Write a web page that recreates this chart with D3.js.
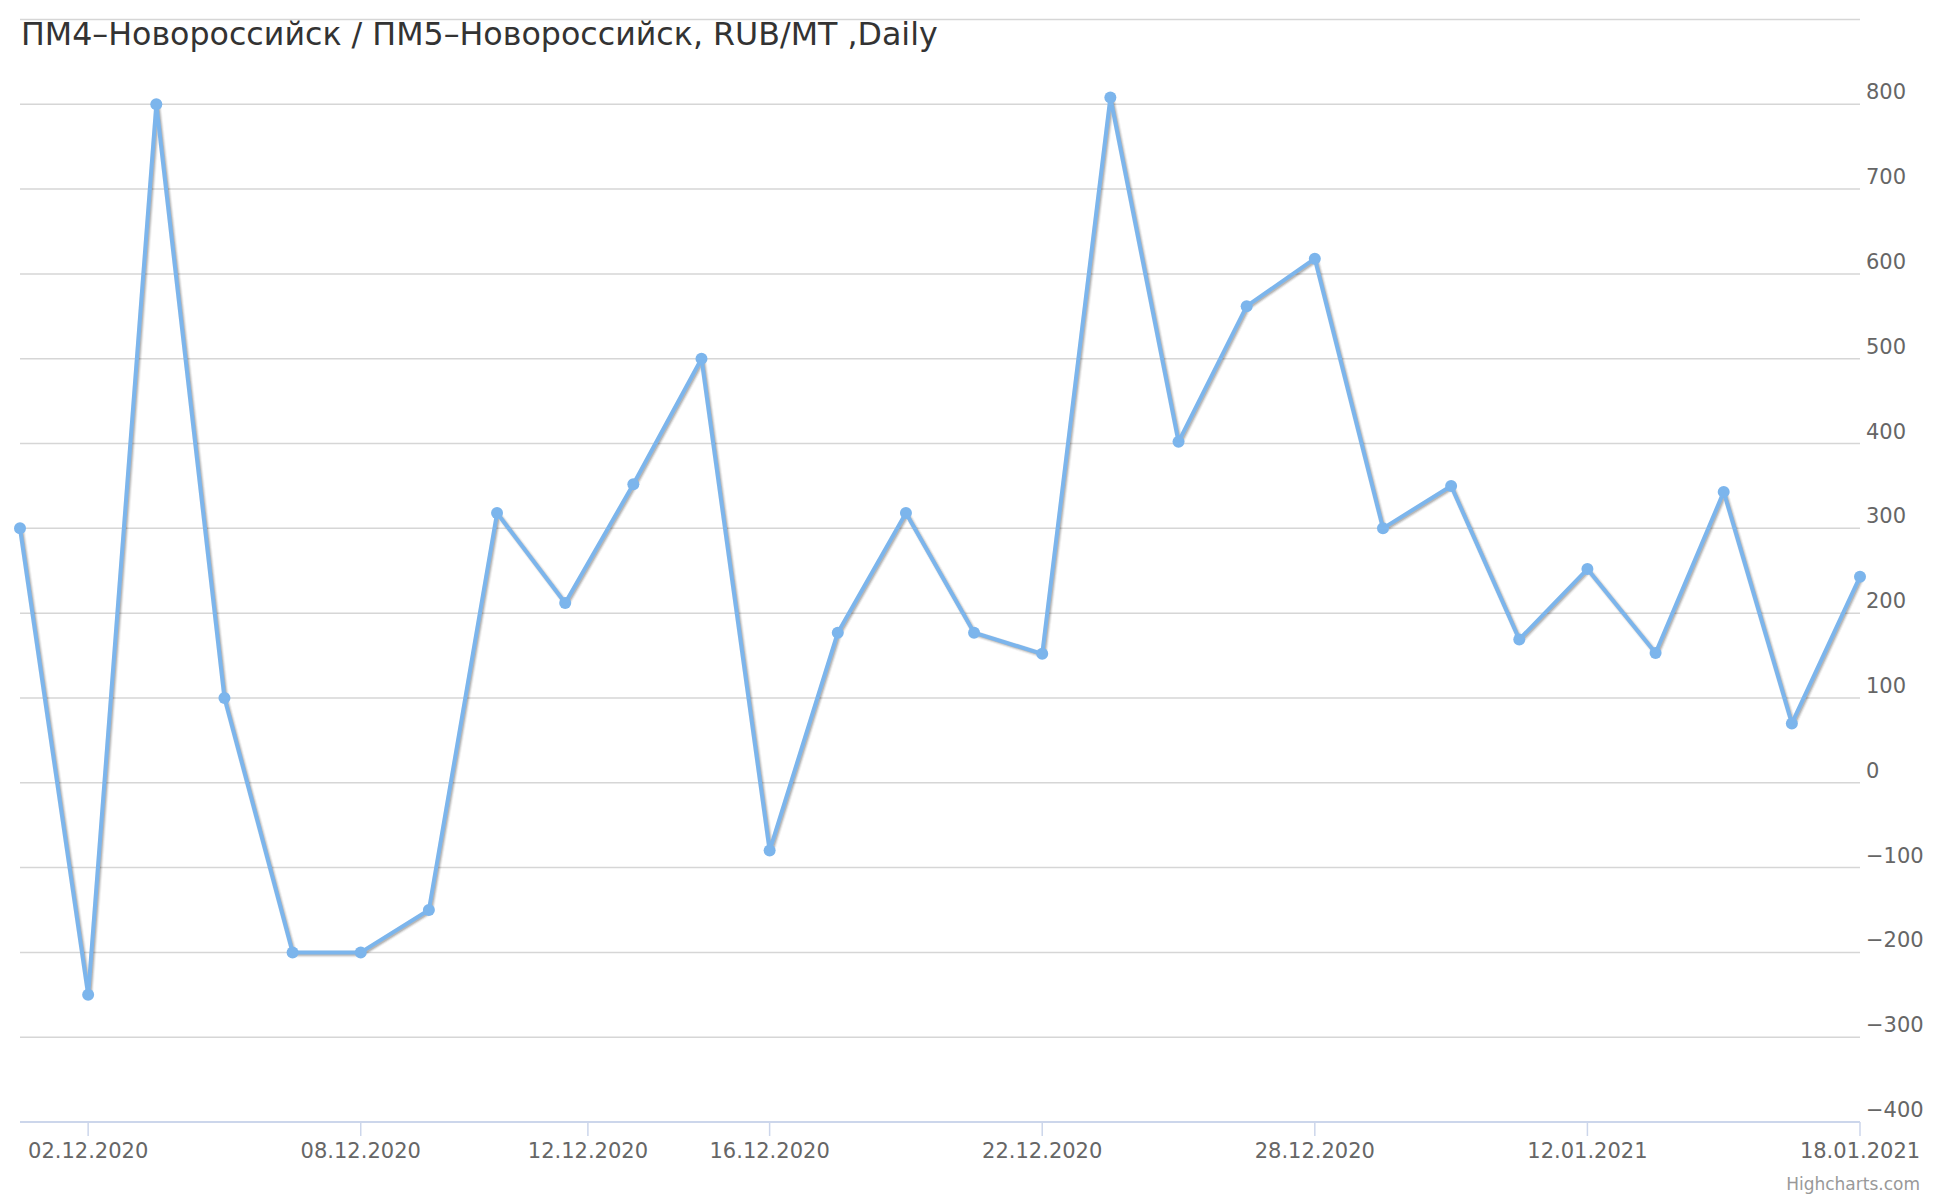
<!DOCTYPE html>
<html>
<head>
<meta charset="utf-8">
<script src="https://cdn.jsdelivr.net/npm/d3@7"></script>
<style>
  body { margin: 0; background: #fff; }
  text { font-family: "DejaVu Sans", Verdana, sans-serif; }
</style>
</head>
<body>
<svg id="chart" width="1940" height="1200"></svg>
<script>
// trading days shown on the chart
const dates = ['01.12.2020', '02.12.2020', '03.12.2020', '04.12.2020', '07.12.2020', '08.12.2020',
    '09.12.2020', '10.12.2020', '11.12.2020', '14.12.2020', '15.12.2020', '16.12.2020', '17.12.2020',
    '18.12.2020', '21.12.2020', '22.12.2020', '23.12.2020', '24.12.2020', '25.12.2020', '28.12.2020',
    '29.12.2020', '30.12.2020', '31.12.2020', '12.01.2021', '13.01.2021', '14.01.2021', '15.01.2021',
    '18.01.2021'];
const spread = [300, -250, 800, 100, -200, -200, -150, 318, 212, 352, 500, -80, 177, 318, 177, 152,
    808, 402, 562, 618, 300, 350, 169, 252, 153, 343, 70, 243];
const xTickLabels = ['02.12.2020', '08.12.2020', '12.12.2020', '16.12.2020', '22.12.2020',
    '28.12.2020', '12.01.2021', '18.01.2021'];
const yTicks = [-400, -300, -200, -100, 0, 100, 200, 300, 400, 500, 600, 700, 800, 900];
const title = 'ПМ4–Новороссийск / ПМ5–Новороссийск, RUB/MT ,Daily';

const svg = d3.select('#chart');
const plotLeft = 20, plotRight = 1860, plotTop = 19.5, plotBottom = 1122;
const parse = d3.timeParse('%d.%m.%Y');
const times = dates.map(parse);

// ordinal axis: a date between two trading days gets a fractional index
function ordinalIndex(s) {
    const t = parse(s);
    const i = d3.bisectLeft(times, t);
    if (+times[i] === +t) return i;
    return i - 1 + (t - times[i - 1]) / (times[i] - times[i - 1]);
}

const x = d3.scaleLinear().domain([0, dates.length - 1]).range([plotLeft, plotRight]);
const y = d3.scaleLinear().domain([-400, 900]).range([plotBottom, plotTop]);

// grid lines
svg.append('g').selectAll('line')
    .data(yTicks)
    .join('line')
    .attr('x1', plotLeft).attr('x2', plotRight)
    .attr('y1', d => y(d)).attr('y2', d => y(d))
    .style('stroke', '#d6d6d6')
    .style('stroke-width', 1.5);

// y labels on the right, above each grid line
svg.append('g').selectAll('text')
    .data(yTicks.filter(d => d < 900))
    .join('text')
    .attr('x', 1866)
    .attr('y', d => y(d) - 5)
    .style('font-size', '21px')
    .style('fill', '#666666')
    .text(d => d < 0 ? '\u2212' + Math.abs(d) : d);

// x axis
const xAxis = svg.append('g');
xAxis.append('line')
    .attr('x1', plotLeft).attr('x2', plotRight)
    .attr('y1', plotBottom).attr('y2', plotBottom)
    .style('stroke', '#ccd6eb')
    .style('stroke-width', 2);
const ticks = xAxis.selectAll('g.tick')
    .data(xTickLabels)
    .join('g')
    .attr('class', 'tick')
    .attr('transform', d => 'translate(' + x(ordinalIndex(d)) + ',0)');
ticks.append('line')
    .attr('y1', plotBottom).attr('y2', plotBottom + 14)
    .style('stroke', '#ccd6eb')
    .style('stroke-width', 1.5);
ticks.append('text')
    .attr('y', plotBottom + 36)
    .attr('text-anchor', 'middle')
    .style('font-size', '21px')
    .style('fill', '#666666')
    .text(d => d);

// series with a soft shadow like highcharts
const line = d3.line().x((d, i) => x(i)).y(d => y(d));
const shadows = [[7, 0.05], [5, 0.1], [3, 0.15]];
shadows.forEach(s => {
    svg.append('path')
        .datum(spread)
        .attr('d', line)
        .attr('transform', 'translate(1.5,1.5)')
        .style('fill', 'none')
        .style('stroke', '#000')
        .style('stroke-opacity', s[1])
        .style('stroke-width', s[0])
        .style('stroke-linejoin', 'round');
});
svg.append('path')
    .datum(spread)
    .attr('d', line)
    .style('fill', 'none')
    .style('stroke', '#7cb5ec')
    .style('stroke-width', 4)
    .style('stroke-linejoin', 'round')
    .style('stroke-linecap', 'round');
svg.append('g').selectAll('circle')
    .data(spread)
    .join('circle')
    .attr('cx', (d, i) => x(i))
    .attr('cy', d => y(d))
    .attr('r', 6)
    .style('fill', '#7cb5ec');

// title
svg.append('text')
    .attr('x', 21)
    .attr('y', 45)
    .style('font-size', '31.7px')
    .style('fill', '#333333')
    .text(title);

// credits
svg.append('text')
    .attr('x', 1920)
    .attr('y', 1190)
    .attr('text-anchor', 'end')
    .style('font-size', '17px')
    .style('fill', '#999999')
    .text('Highcharts.com');
</script>
</body>
</html>
